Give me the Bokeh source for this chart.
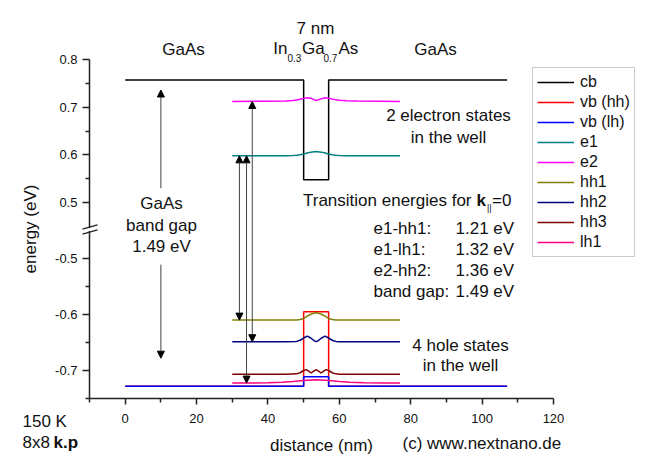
from bokeh.plotting import figure
from bokeh.models import ColumnDataSource, FixedTicker, Label, Arrow, NormalHead, LinearAxis
from bokeh.embed import file_html
from bokeh.resources import INLINE

# ---------------- data ----------------
band_x = [0, 50, 50, 57, 57, 107]
cb = [0.757, 0.757, 0.548, 0.548, 0.757, 0.757]
vb_hh = [-0.728, -0.728, -0.595, -0.595, -0.728, -0.728]
vb_lh = [-0.728, -0.728, -0.711, -0.711, -0.728, -0.728]

e1_x = [30, 40, 45, 47, 48, 49, 50, 51, 52, 53, 53.5, 54, 55, 56, 57, 58, 59, 60, 62, 65, 77]
e1_y = [0.598, 0.598, 0.5982, 0.5988, 0.5995, 0.6005, 0.602, 0.604, 0.6058, 0.6068, 0.607,
        0.6068, 0.6058, 0.604, 0.602, 0.6005, 0.5995, 0.5988, 0.5983, 0.598, 0.598]

e2_x = [30, 40, 45, 47, 48, 49, 50, 51, 52, 53, 53.5, 54, 55, 56, 57, 58, 59, 60, 62, 65, 77]
e2_y = [0.712, 0.7125, 0.713, 0.714, 0.715, 0.7165, 0.7185, 0.7198, 0.719, 0.7155, 0.7145,
        0.715, 0.718, 0.7198, 0.719, 0.717, 0.7155, 0.7145, 0.7135, 0.713, 0.712]

hh1_x = [30, 45, 48, 49, 50, 51, 52, 53, 53.5, 54, 55, 56, 57, 58, 59, 60, 77]
hh1_y = [-0.610, -0.610, -0.6098, -0.609, -0.607, -0.603, -0.5995, -0.5975, -0.597,
         -0.5975, -0.5995, -0.603, -0.607, -0.609, -0.6098, -0.610, -0.610]

hh2_x = [30, 45, 48, 49, 50, 51, 52, 53, 53.5, 54, 55, 56, 57, 58, 59, 60, 77]
hh2_y = [-0.6485, -0.6485, -0.648, -0.646, -0.642, -0.6385, -0.642, -0.647, -0.6485,
         -0.647, -0.642, -0.6385, -0.642, -0.646, -0.648, -0.6485, -0.6485]

hh3_x = [30, 45, 48, 49, 50, 50.7, 51.4, 52.1, 52.8, 53.5, 54.2, 54.9, 55.6, 56.3, 57, 58, 59, 60, 77]
hh3_y = [-0.7065, -0.7065, -0.706, -0.704, -0.700, -0.6985, -0.701, -0.7045, -0.701, -0.6985,
         -0.701, -0.7045, -0.701, -0.6985, -0.700, -0.704, -0.706, -0.7065, -0.7065]

lh1_x = [30, 35, 40, 44, 47, 50, 52, 53.5, 55, 57, 60, 63, 67, 72, 77]
lh1_y = [-0.7225, -0.7222, -0.722, -0.7212, -0.7198, -0.7178, -0.7168, -0.7165, -0.7168,
         -0.7178, -0.7198, -0.7212, -0.722, -0.7222, -0.7225]

# transition arrows (x position, lower energy, upper energy)
tr_x = [32, 34, 35.6]
tr_low = [-0.610, -0.7225, -0.6485]
tr_high = [0.598, 0.598, 0.712]

# GaAs band gap arrows
gap_x = [10]
gap_up = [0.530, 0.736]
gap_down = [-0.511, -0.678]

y_major = [-0.7, -0.6, -0.5, 0.5, 0.6, 0.7, 0.8]
y_minor = [-0.75, -0.65, -0.55, 0.55, 0.65, 0.75]
x_major = [0, 20, 40, 60, 80, 100, 120]
x_minor = [-10, 10, 30, 50, 70, 90, 110]

series = [
    ("cb", band_x, cb, "#000000"),
    ("vb (hh)", band_x, vb_hh, "#FF0000"),
    ("vb (lh)", band_x, vb_lh, "#0000FF"),
    ("e1", e1_x, e1_y, "#008080"),
    ("e2", e2_x, e2_y, "#FF00FF"),
    ("hh1", hh1_x, hh1_y, "#808000"),
    ("hh2", hh2_x, hh2_y, "#000080"),
    ("hh3", hh3_x, hh3_y, "#800000"),
    ("lh1", lh1_x, lh1_y, "#FF0080"),
]


# broken energy axis: two linear segments mapped onto one plot coordinate
def yt(v):
    return (v + 0.75) * 560.0 if v < 0 else 339.0 - (0.8 - v) * 477.0


FONT = "Liberation Sans"
W, H = 652, 468
XL, XR = -10.0, 120.0          # energy-axis x extent (data)
FL, FR = 89.0, 553.0           # its pixel extent
sc = (FR - FL) / (XR - XL)

p = figure(width=W, height=H,
           x_range=(XL - FL / sc, XL + (W - FL) / sc), y_range=(-(H - 398), 398),
           output_backend="svg", toolbar_location=None,
           x_axis_location=None, y_axis_location=None,
           min_border_left=0, min_border_right=0, min_border_top=0, min_border_bottom=0)
p.xgrid.visible = False
p.ygrid.visible = False
p.outline_line_color = None
p.background_fill_color = "white"
p.border_fill_color = "white"

for name, xs, ys, col in series:
    p.line(xs, [yt(v) for v in ys], line_color=col, line_width=1.5, legend_label=name)

# axes
yticks = [round(yt(v), 6) for v in y_major]
yax = LinearAxis(fixed_location=XL, bounds=(0, yt(0.8)),
                 ticker=FixedTicker(ticks=yticks, minor_ticks=[round(yt(v), 6) for v in y_minor]),
                 axis_label="energy (eV)")
yax.major_label_overrides = {t: "%g" % v for t, v in zip(yticks, y_major)}
xax = LinearAxis(fixed_location=0, bounds=(XL, XR),
                 ticker=FixedTicker(ticks=x_major, minor_ticks=x_minor),
                 axis_label="distance (nm)")
for ax in (xax, yax):
    ax.axis_label_text_font = FONT
    ax.axis_label_text_font_size = "17px"
    ax.axis_label_text_font_style = "normal"
    ax.axis_label_text_color = "#111111"
    ax.major_label_text_font = FONT
    ax.major_label_text_font_size = "13px"
    ax.major_label_text_color = "#111111"
    ax.axis_line_color = "#222222"
    ax.axis_line_width = 1.5
    ax.major_tick_line_color = "#222222"
    ax.major_tick_line_width = 1.5
    ax.minor_tick_line_color = "#222222"
    ax.minor_tick_line_width = 1.5
    ax.major_tick_in = 0
    ax.minor_tick_in = 0
xax.major_tick_out = 6
xax.minor_tick_out = 4
yax.major_tick_out = 7
yax.minor_tick_out = 4
xax.major_label_standoff = 9
xax.axis_label_standoff = 10
yax.major_label_standoff = 5
yax.axis_label_standoff = 12
p.add_layout(yax, "left")
p.add_layout(xax, "below")

# axis break marks
p.add_layout(Arrow(end=None, x_start=XL, x_end=XL, y_start=167.5, y_end=170.5,
                   line_color="white", line_width=4))
for y0, y1 in ((169.4, 173.6), (164.4, 168.6)):
    p.add_layout(Arrow(end=None, x_start=XL - 1.96, x_end=XL + 2.24, y_start=y0, y_end=y1,
                       line_color="#222222", line_width=1.5))


# arrows
def head():
    return NormalHead(size=7, fill_color="black", line_color="black", line_width=1)


tr_src = ColumnDataSource(dict(x=tr_x, y0=[yt(v) for v in tr_low], y1=[yt(v) for v in tr_high]))
p.add_layout(Arrow(start=head(), end=head(), x_start="x", y_start="y0", x_end="x", y_end="y1",
                   source=tr_src, line_color="#444444", line_width=1))
p.add_layout(Arrow(end=head(), x_start=gap_x[0], y_start=yt(gap_up[0]), x_end=gap_x[0],
                   y_end=yt(gap_up[1]), line_color="#444444", line_width=1))
p.add_layout(Arrow(end=head(), x_start=gap_x[0], y_start=yt(gap_down[0]), x_end=gap_x[0],
                   y_end=yt(gap_down[1]), line_color="#444444", line_width=1))

# legend
lg = p.legend[0]
lg.location = (532, H - 257)
lg.label_text_font = FONT
lg.label_text_font_size = "16px"
lg.label_text_color = "#111111"
lg.label_height = 20
lg.glyph_height = 20
lg.glyph_width = 37
lg.spacing = 0
lg.padding = 4
lg.margin = 0
lg.label_standoff = 6
lg.border_line_color = "#999999"
lg.border_line_width = 1
lg.background_fill_alpha = 1


# text annotations (page pixel positions)
def lab(text, px, py, size=17, align="left", bold=False):
    p.add_layout(Label(x=px, y=H - py, x_units="screen", y_units="screen", text=text,
                       text_font=FONT, text_font_size="%dpx" % size, text_align=align,
                       text_baseline="middle", text_color="#111111",
                       text_font_style="bold" if bold else "normal"))


lab("7 nm", 315, 28, align="center")
lab("GaAs", 183, 49, align="center")
lab("GaAs", 435, 49, align="center")
lab("In", 272.7, 48)
lab("0.3", 287, 57, size=10)
lab("Ga", 301.5, 48)
lab("0.7", 323, 57, size=10)
lab("As", 338, 48)
lab("2 electron states", 448, 115, align="center")
lab("in the well", 448, 137, align="center")
lab("Transition energies for", 471, 200, align="right")
lab("k", 476, 200, bold=True)
lab("||", 486.5, 207, size=9)
lab("=0", 491.5, 200)
rows = [("e1-hh1:", "1.21 eV"), ("e1-lh1:", "1.32 eV"), ("e2-hh2:", "1.36 eV"), ("band gap:", "1.49 eV")]
for i, (a, b) in enumerate(rows):
    lab(a, 373, 228 + 21 * i)
    lab(b, 455, 228 + 21 * i)
lab("GaAs", 161, 203, align="center")
lab("band gap", 161, 225, align="center")
lab("1.49 eV", 161, 246, align="center")
lab("4 hole states", 460, 345, align="center")
lab("in the well", 460, 365, align="center")
lab("150 K", 22, 421)
lab("8x8", 22, 442)
lab("k.p", 53, 442, bold=True)
lab("(c) www.nextnano.de", 402, 443)

open("out.html", "w").write(file_html(p, INLINE))
